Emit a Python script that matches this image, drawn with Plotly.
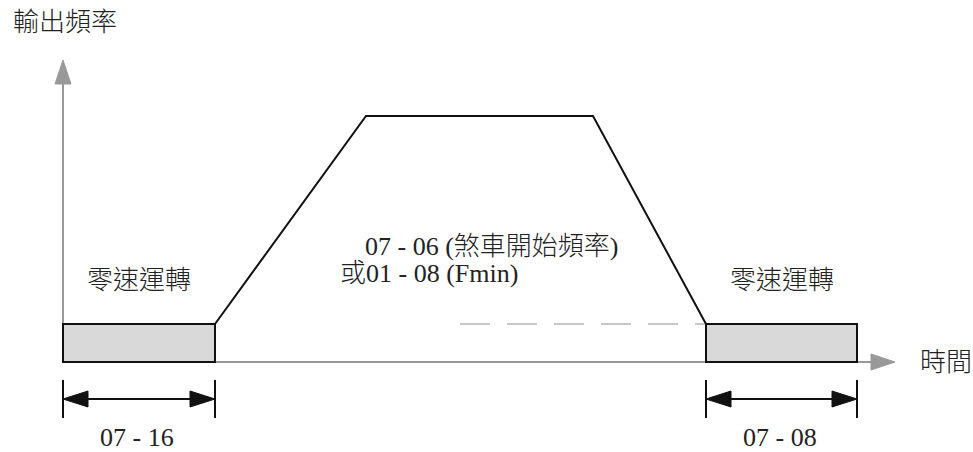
import plotly.graph_objects as go

# 時間軸上的關鍵點 (原點 = 縱軸)
t_points = [0, 152, 303, 530, 643, 794]
# 輸出頻率輪廓
f_zero = 38          # 零速運轉位準
f_max = 246          # 最高頻率
profile_t = [152, 303, 530, 643]
profile_f = [38, 246, 246, 38]

# 零速運轉區間
hold_blocks = [(0, 152), (643, 794)]
dim_labels = ["07 - 16", "07 - 08"]
hold_label = "零速運轉"

# 虛線 (煞車開始頻率)
dash_t = [397, 643]

# 座標軸長度
x_axis_end = 832
y_axis_end = 302

TXT = "#222222"
AXIS = "#999999"
FONT = "'Liberation Serif', 'Noto Sans CJK TC', serif"

fig = go.Figure()

# 座標軸
fig.add_trace(go.Scatter(x=[0, x_axis_end - 20], y=[0, 0], mode="lines",
                         line=dict(color=AXIS, width=2), hoverinfo="skip"))
fig.add_trace(go.Scatter(x=[0, 0], y=[0, y_axis_end - 20], mode="lines",
                         line=dict(color=AXIS, width=2), hoverinfo="skip"))
# 箭頭
ah = 24
aw = 8
fig.add_trace(go.Scatter(x=[x_axis_end - ah, x_axis_end, x_axis_end - ah, x_axis_end - ah],
                         y=[aw, 0, -aw, aw], mode="lines", fill="toself",
                         fillcolor=AXIS, line=dict(color=AXIS, width=1), hoverinfo="skip"))
fig.add_trace(go.Scatter(x=[-aw, 0, aw, -aw],
                         y=[y_axis_end - ah, y_axis_end, y_axis_end - ah, y_axis_end - ah],
                         mode="lines", fill="toself",
                         fillcolor=AXIS, line=dict(color=AXIS, width=1), hoverinfo="skip"))

# 虛線
fig.add_trace(go.Scatter(x=dash_t, y=[f_zero, f_zero], mode="lines",
                         line=dict(color="#c8c8c8", width=2, dash="30px,17px"),
                         hoverinfo="skip"))

# 零速運轉方塊
for t0, t1 in hold_blocks:
    fig.add_shape(type="rect", x0=t0, x1=t1, y0=0, y1=f_zero,
                  xref="x", yref="y", fillcolor="#d9d9d9",
                  line=dict(color="#111111", width=2))

# 頻率輪廓
fig.add_trace(go.Scatter(x=profile_t, y=profile_f, mode="lines",
                         line=dict(color="#111111", width=2), hoverinfo="skip"))

# 尺寸標註
tick_top, tick_bot, dim_y = -18, -56, -37
for (t0, t1), lab in zip(hold_blocks, dim_labels):
    for t in (t0, t1):
        fig.add_trace(go.Scatter(x=[t, t], y=[tick_top, tick_bot], mode="lines",
                                 line=dict(color="#111111", width=2), hoverinfo="skip"))
    fig.add_trace(go.Scatter(x=[t0 + 20, t1 - 20], y=[dim_y, dim_y], mode="lines",
                             line=dict(color="#111111", width=2), hoverinfo="skip"))
    fig.add_trace(go.Scatter(x=[t0, t0 + 25, t0 + 25, t0], y=[dim_y, dim_y + 8, dim_y - 8, dim_y],
                             mode="lines", fill="toself", fillcolor="#111111",
                             line=dict(color="#111111", width=1), hoverinfo="skip"))
    fig.add_trace(go.Scatter(x=[t1, t1 - 25, t1 - 25, t1], y=[dim_y, dim_y + 8, dim_y - 8, dim_y],
                             mode="lines", fill="toself", fillcolor="#111111",
                             line=dict(color="#111111", width=1), hoverinfo="skip"))
    fig.add_annotation(x=(t0 + t1) / 2 - 2, y=-75, text=lab, showarrow=False,
                       font=dict(size=26, color=TXT))
    fig.add_annotation(x=(t0 + t1) / 2, y=82, text=hold_label, showarrow=False,
                       font=dict(size=26, color=TXT))

fig.add_annotation(x=300, y=116, text="07 - 06 (煞車開始頻率)", showarrow=False,
                   xanchor="left", font=dict(size=26, color=TXT))
fig.add_annotation(x=275, y=89, text="或01 - 08 (Fmin)", showarrow=False,
                   xanchor="left", font=dict(size=26, color=TXT))
fig.add_annotation(x=-52, y=340, text="輸出頻率", showarrow=False,
                   xanchor="left", font=dict(size=26, color=TXT))
fig.add_annotation(x=855, y=0, text="時間", showarrow=False,
                   xanchor="left", font=dict(size=26, color=TXT))

fig.update_xaxes(range=[-63, 910], visible=False, fixedrange=True)
fig.update_yaxes(range=[-90, 362], visible=False, fixedrange=True)
fig.update_layout(width=973, height=452, margin=dict(l=0, r=0, t=0, b=0),
                  showlegend=False, plot_bgcolor="white", paper_bgcolor="white",
                  font=dict(family=FONT, weight=300))

fig.write_html("out.html", config={"displayModeBar": False},
               post_script="document.body.style.margin='0';")
